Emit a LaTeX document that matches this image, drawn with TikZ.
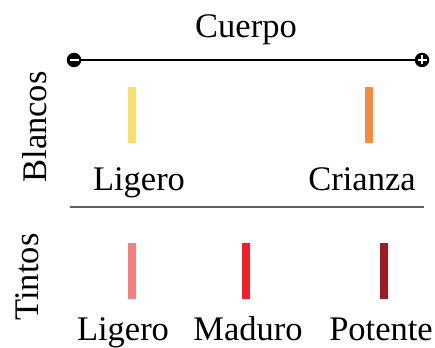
\documentclass[tikz,border=0pt]{standalone}
\usepackage{fontspec}
\setmainfont{Liberation Serif}
\definecolor{cyellow}{HTML}{FADF6E}
\definecolor{corange}{HTML}{F58C3D}
\definecolor{cpink}{HTML}{F47F7E}
\definecolor{cred}{HTML}{EE1F26}
\definecolor{cdark}{HTML}{9D1B21}
\definecolor{csep}{HTML}{606060}
\begin{document}
\begin{tikzpicture}[x=1pt,y=-1pt,
  lbl/.style={font=\fontsize{34.5}{40}\selectfont, inner sep=0pt, anchor=base},
  side/.style={font=\fontsize{34.5}{40}\selectfont, inner sep=0pt, rotate=90},
  bar/.style={fill=#1, draw=none, minimum width=8pt, minimum height=56pt, inner sep=0pt},
  endc/.style={circle, fill=black, minimum size=14.5pt, inner sep=0pt}]
\useasboundingbox (0,0) rectangle (435,347);
% axis
\node[endc] (minus) at (74,60) {};
\node[endc] (plus) at (422,60) {};
\draw[line width=1.2pt] (minus) -- (plus);
\draw[white, line width=2.2pt] ([xshift=-4.5pt]minus.center) -- ([xshift=4.5pt]minus.center);
\draw[white, line width=2.2pt] ([xshift=-4.5pt]plus.center) -- ([xshift=4.5pt]plus.center);
\draw[white, line width=2.2pt] ([yshift=-4.5pt]plus.center) -- ([yshift=4.5pt]plus.center);
\node[lbl] (cuerpo) at (246,38) {Cuerpo};
% Blancos
\node[side] (blancos) at (35,127) {Blancos};
\node[bar=cyellow] (b1) at (132,115) {};
\node[bar=corange] (b2) at (369,115) {};
\node[lbl] (l1) at (139,190) {Ligero};
\node[lbl] (l2) at (362,190) {Crianza};
% separator
\coordinate (s1) at (70,207);
\coordinate (s2) at (424,207);
\draw[csep, line width=2.4pt] (s1) -- (s2);
% Tintos
\node[side] (tintos) at (27,277) {Tintos};
\node[bar=cpink] (t1) at (132,271) {};
\node[bar=cred] (t2) at (246,271) {};
\node[bar=cdark] (t3) at (384,271) {};
\node[lbl] (m1) at (123,340) {Ligero};
\node[lbl] (m2) at (248,340) {Maduro};
\node[lbl] (m3) at (381,340) {Potente};
\end{tikzpicture}
\end{document}
